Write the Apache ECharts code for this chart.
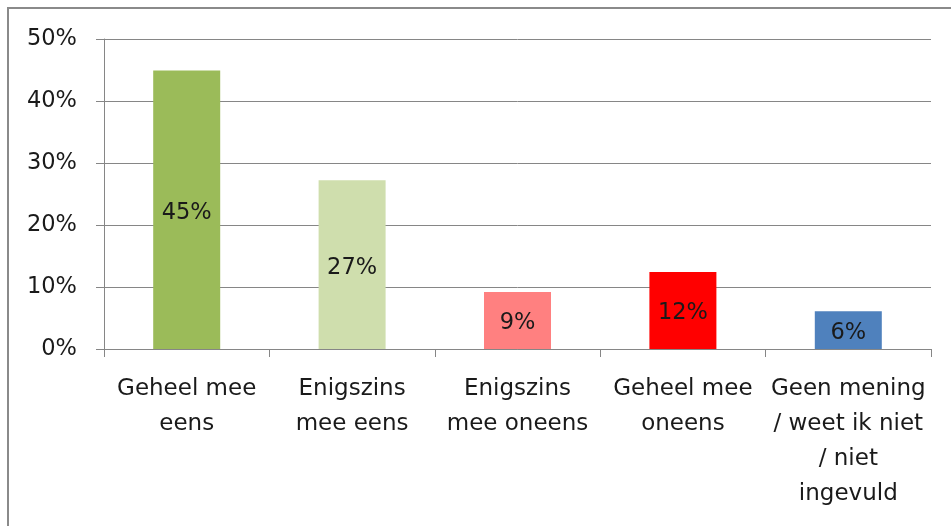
<!DOCTYPE html>
<html>
<head>
<meta charset="utf-8">
<script src="https://cdn.jsdelivr.net/npm/echarts@6/dist/echarts.min.js"></script>
<style>html,body{margin:0;padding:0;background:#fff}#c{width:951px;height:526px}</style>
</head>
<body>
<div id="c"></div>
<script>
var categories = ["Geheel mee\neens", "Enigszins\nmee eens", "Enigszins\nmee oneens", "Geheel mee\noneens", "Geen mening\n/ weet ik niet\n/ niet\ningevuld"];
var values = [44.9, 27.2, 9.2, 12.4, 6.1];
var barColors = ["#9BBB59", "#CFDEAD", "#FF8080", "#FF0000", "#4F81BD"];
var yTicks = [0, 10, 20, 30, 40, 50];

var font = "'DejaVu Sans', sans-serif";
var chart = echarts.init(document.getElementById('c'));
chart.setOption({
  animation: false,
  backgroundColor: '#fff',
  grid: { left: 104, right: 20, top: 39, bottom: 177 },
  xAxis: {
    type: 'category',
    data: categories,
    axisLine: { lineStyle: { color: '#868686', width: 1 } },
    axisTick: { show: true, length: 8, lineStyle: { color: '#868686' } },
    axisLabel: { color: '#1a1a1a', fontSize: 23, fontFamily: font, lineHeight: 35, margin: 23, interval: 0 }
  },
  yAxis: {
    type: 'value',
    min: yTicks[0], max: yTicks[yTicks.length - 1], interval: 10,
    axisLine: { show: true, lineStyle: { color: '#868686', width: 1 } },
    axisTick: { show: true, length: 8, lineStyle: { color: '#868686' } },
    splitLine: { lineStyle: { color: '#868686', width: 1 } },
    axisLabel: { color: '#1a1a1a', fontSize: 22.5, fontFamily: font, margin: 27, formatter: function (v) { return v + '%'; } }
  },
  series: [{
    type: 'bar',
    barWidth: 67,
    data: values.map(function (v, i) { return { value: v, itemStyle: { color: barColors[i] } }; }),
    label: {
      show: true, position: 'inside', offset: [0, 3], color: '#1a1a1a', fontSize: 22.5, fontFamily: font,
      formatter: function (p) { return Math.round(p.value) + '%'; }
    }
  }],
  graphic: [
    { type: 'line', shape: { x1: 8, y1: 8, x2: 8, y2: 526 }, style: { stroke: '#8a8a8a', lineWidth: 2 } },
    { type: 'line', shape: { x1: 7, y1: 8, x2: 951, y2: 8 }, style: { stroke: '#8a8a8a', lineWidth: 2 } }
  ]
});
</script>
</body>
</html>
